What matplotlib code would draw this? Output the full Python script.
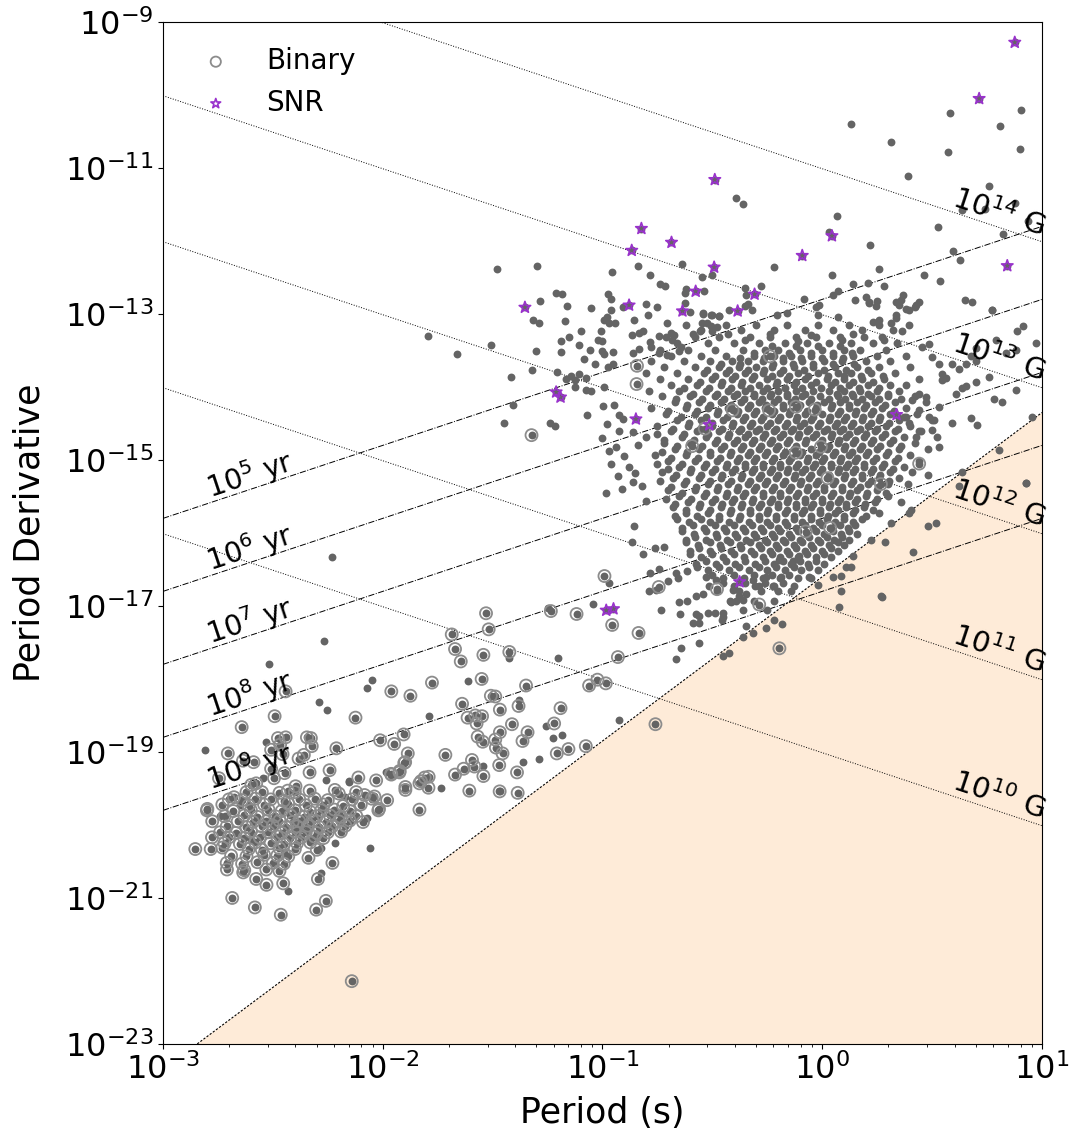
import numpy as np
import matplotlib
matplotlib.use("Agg")
import matplotlib.pyplot as plt

# ---- data (log10 P [s], log10 Pdot) ----
snr = [(0.876, -9.28), (0.714, -10.05), (-0.489, -11.16), (0.044, -11.93), (-0.091, -12.20),
       (0.842, -12.34), (-0.492, -12.36), (-0.308, -12.73), (-0.385, -12.96), (-0.823, -11.83),
       (-0.686, -12.02), (-0.867, -12.13), (-0.576, -12.69), (-0.879, -12.88), (-1.353, -12.91),
       (-0.636, -12.96), (-1.211, -14.07), (-1.191, -14.14), (-0.848, -14.44), (-0.514, -14.52),
       (0.338, -14.38), (-0.376, -16.67), (-0.983, -17.06), (-0.95, -17.04)]

upper = [(0.903, -10.21), (0.580, -10.25), (0.808, -10.43), (0.133, -10.40), (0.314, -10.65),
         (0.573, -10.78), (0.901, -10.74), (0.392, -11.11), (-0.391, -11.41), (-0.359, -11.50),
         (0.759, -11.25), (0.635, -11.57), (0.741, -11.56), (0.877, -11.48), (0.938, -11.73),
         (0.824, -11.91), (0.065, -11.66), (0.029, -11.88), (0.526, -11.81), (0.217, -12.06),
         (0.597, -12.14), (0.629, -12.26), (-0.218, -12.35), (-0.503, -12.46), (-0.547, -12.49),
         (0.045, -12.47), (0.258, -12.39), (0.465, -12.46), (0.535, -12.55), (-0.277, -12.61),
         (-0.353, -12.65), (-0.347, -12.74), (-0.336, -12.86), (-0.35, -12.89), (-0.319, -12.95),
         (0.142, -12.59), (0.206, -12.57), (0.282, -12.62), (0.070, -12.68), (0.05, -12.74),
         (-0.085, -12.80), (0.15, -12.81), (0.199, -12.77), (0.214, -12.85), (0.251, -12.82),
         (0.244, -12.89), (0.368, -12.74), (0.358, -12.81), (0.441, -12.84), (0.423, -12.90),
         (0.380, -12.93), (0.649, -12.81), (0.683, -12.84), (0.774, -12.94), (-0.014, -12.88),
         (-0.029, -12.90), (-0.021, -13.01), (-0.159, -12.99), (-0.208, -13.01), (-0.423, -12.95),
         (0.07, -13.04), (0.335, -13.01), (-0.544, -12.99), (-0.505, -13.01), (-0.468, -13.03),
         (-0.638, -12.32), (-0.838, -12.34), (-0.956, -12.43), (-0.782, -12.46), (-1.299, -12.34),
         (-1.479, -12.39), (-0.738, -12.59), (-0.717, -12.61), (-0.620, -12.66), (-0.623, -12.71),
         (-0.54, -12.69), (-1.211, -12.71), (-1.183, -12.73), (-0.976, -12.72), (-0.961, -12.79),
         (-1.161, -12.89), (-1.286, -12.82), (-1.052, -12.92), (-0.908, -12.91), (-0.803, -12.86),
         (-0.751, -12.90), (-0.626, -12.85), (-0.602, -12.97), (-0.542, -13.00), (-0.503, -13.02),
         (-0.47, -13.03), (-1.317, -13.08), (-1.29, -13.12), (-1.170, -13.10), (-0.979, -13.04),
         (-0.961, -12.94), (-0.991, -13.08), (-0.971, -13.13), (-0.942, -13.12), (-0.858, -13.08),
         (-0.791, -13.02), (-0.705, -13.12), (-0.545, -13.12), (-0.505, -13.16), (-0.477, -13.18),
         (-1.794, -13.30), (-1.664, -13.55), (-1.509, -13.42), (-1.417, -13.86), (-1.321, -13.77),
         (-1.303, -13.51), (-1.097, -13.23), (-1.191, -13.37), (-1.188, -13.52), (-1.153, -13.32),
         (-1.108, -13.42), (-1.059, -13.50), (-1.007, -13.23), (-1.020, -13.36), (-1.001, -13.37),
         (-1.003, -13.51), (-0.995, -13.55), (-0.953, -13.52), (-1.086, -13.62), (-1.036, -13.69),
         (-0.974, -13.73), (-0.953, -13.68), (-0.867, -13.29), (-0.836, -13.26), (-0.817, -13.24),
         (-0.862, -13.53), (-0.836, -13.48), (-0.782, -13.39), (-0.78, -13.45), (-0.741, -13.30),
         (-0.688, -13.26), (-0.673, -13.29), (-0.685, -13.36), (-0.641, -13.45), (-0.65, -13.51),
         (-0.586, -13.27), (-0.556, -13.24), (-0.526, -13.13), (-0.501, -13.24), (-0.744, -13.53),
         (-0.708, -13.56), (-1.206, -13.80), (-1.143, -13.85), (-1.124, -13.90), (-1.165, -13.89),
         (-1.105, -13.82), (-1.077, -13.88), (-1.123, -14.00), (-0.995, -14.00), (-1.074, -14.04),
         (-1.052, -14.05), (-1.405, -14.25), (-1.447, -14.49), (-1.238, -14.50), (-1.218, -14.53),
         (-1.071, -14.39), (-0.997, -14.26), (-0.980, -14.51), (-0.948, -14.25), (-0.923, -14.38),
         (-0.908, -14.44), (-0.923, -14.61), (-0.939, -14.82),
         (-0.43, -13.27), (-0.24, -13.28), (-0.05, -13.29), (0.14, -13.27), (-0.35, -13.36),
         (-0.11, -13.37), (0.09, -13.35), (0.28, -13.36)]

right = [(0.774, -12.94), (0.914, -13.16), (0.888, -13.24), (0.971, -13.40), (0.789, -13.35),
         (0.698, -13.47), (0.835, -13.54), (0.88, -13.49), (0.676, -13.58), (0.698, -13.65),
         (0.653, -13.68), (0.592, -13.68), (0.623, -13.75), (0.759, -13.86), (0.698, -13.93),
         (0.653, -13.99), (0.782, -14.16), (0.820, -14.20), (0.880, -14.04), (0.547, -13.91),
         (0.562, -13.88), (0.608, -14.10), (0.638, -14.01), (0.532, -14.27), (0.486, -14.41),
         (0.509, -14.45), (0.592, -14.50), (0.676, -14.43), (0.706, -14.52), (0.956, -14.41),
         (0.50, -14.59), (0.532, -14.82), (0.805, -14.86), (0.638, -15.16), (0.926, -15.31),
         (0.623, -15.36), (0.479, -15.20), (0.441, -14.61), (0.426, -14.68), (0.41, -14.18),
         (0.44, -14.32), (0.441, -14.09), (0.471, -14.14), (0.38, -14.41), (0.395, -14.50),
         (0.50, -13.59), (0.532, -13.68), (0.547, -13.82), (0.486, -13.41), (0.456, -13.45),
         (0.395, -13.15), (0.365, -13.24), (0.334, -13.06), (0.312, -13.13), (0.395, -12.95),
         (0.426, -12.88), (0.229, -13.11), (0.259, -13.08), (0.334, -12.84), (0.35, -12.88),
         (0.214, -12.84)]

lower = [(-0.983, -15.45), (-0.804, -15.56), (-0.855, -15.91), (-0.866, -16.12), (-0.817, -16.29),
         (-0.786, -16.55), (-0.741, -16.50), (-0.763, -16.21), (-0.721, -16.19), (-0.789, -16.80),
         (-0.756, -16.78), (-0.658, -16.62), (-0.617, -16.52), (-0.665, -16.55), (-0.703, -16.66),
         (-0.734, -17.05), (-0.650, -16.94), (-0.617, -16.93), (-0.647, -17.11), (-0.559, -17.14),
         (-0.574, -17.11), (-0.562, -17.51), (-0.641, -17.58), (-0.665, -17.72), (-0.521, -17.10),
         (-0.486, -17.10), (-0.453, -17.09), (-0.45, -17.15), (-0.456, -17.19), (-0.589, -17.24),
         (-0.559, -17.24), (-0.529, -16.60), (-0.514, -16.73), (-0.483, -16.64), (-0.574, -16.87),
         (-0.544, -16.83), (-0.408, -16.78), (-0.378, -16.87), (-0.362, -16.92), (-0.347, -16.83),
         (-0.416, -16.94), (-0.393, -16.93), (-0.347, -17.28), (-0.317, -17.37), (-0.362, -17.42),
         (-0.256, -17.30), (-0.218, -17.19), (-0.184, -17.25), (-0.453, -17.69), (-0.423, -17.65),
         (-0.317, -16.64), (-0.287, -16.73), (-0.256, -16.60), (-0.226, -16.73), (-0.188, -16.61),
         (-0.14, -16.80), (-0.195, -16.37), (-0.135, -16.39), (-0.105, -16.32), (-0.059, -16.60),
         (-0.021, -16.71), (0.926, -15.32), (0.403, -15.69), (0.395, -15.73), (0.312, -15.87),
         (0.479, -15.90), (0.517, -15.87), (0.224, -16.09), (0.286, -16.13), (0.138, -16.31),
         (0.411, -16.26), (0.13, -16.47), (0.108, -16.47), (0.047, -16.61), (0.085, -16.59),
         (0.085, -16.80), (0.077, -17.01), (0.267, -16.86), (0.273, -16.88),
         (-1.00, -14.70), (-0.97, -14.88), (-0.90, -14.95), (-0.88, -15.10), (-0.93, -15.22),
         (-0.86, -15.30), (-0.84, -14.80), (-0.86, -14.62), (-0.96, -15.05), (-0.91, -15.40),
         (-0.82, -15.35), (-0.85, -15.18)]

# normal pulsars in the main cloud: one row per Pdot value
core_rows = [
    (-13.15, [-0.62, -0.44, -0.30, -0.16, -0.02, 0.12, 0.26]),
    (-13.22, [-0.55, -0.37, -0.22, -0.08, 0.05, 0.18, 0.32]),
    (-13.32, [-0.71, -0.58, -0.47, -0.33, -0.24, -0.12, -0.03, 0.08, 0.19, 0.27]),
    (-13.40, [-0.66, -0.52, -0.40, -0.29, -0.17, -0.07, 0.03, 0.13, 0.23, 0.34]),
    (-13.49, [-0.74, -0.61, -0.49, -0.36, -0.26, -0.20, -0.10, 0.00, 0.10, 0.17, 0.29]),
    (-13.57, [-0.69, -0.55, -0.44, -0.31, -0.22, -0.14, -0.05, 0.05, 0.14, 0.25, 0.38]),
    (-13.65, [-0.78, -0.63, -0.51, -0.41, -0.34, -0.27, -0.18, -0.09, 0.01, 0.09, 0.20, 0.31]),
    (-13.73, [-0.72, -0.58, -0.47, -0.38, -0.30, -0.23, -0.13, -0.04, 0.06, 0.16, 0.26, 0.40]),
    (-13.81, [-0.80, -0.66, -0.54, -0.44, -0.35, -0.27, -0.19, -0.11, -0.02, 0.07, 0.13, 0.22, 0.33]),
    (-13.89, [-0.74, -0.61, -0.50, -0.41, -0.32, -0.25, -0.16, -0.08, 0.02, 0.10, 0.18, 0.28, 0.44]),
    (-13.97, [-0.69, -0.57, -0.46, -0.37, -0.29, -0.21, -0.13, -0.05, 0.04, 0.12, 0.21, 0.31, 0.38]),
    (-14.05, [-0.79, -0.65, -0.53, -0.43, -0.35, -0.27, -0.20, -0.12, -0.04, 0.03, 0.10, 0.17, 0.25, 0.35]),
    (-14.13, [-0.73, -0.60, -0.49, -0.40, -0.31, -0.24, -0.16, -0.09, -0.01, 0.07, 0.14, 0.22, 0.30, 0.42]),
    (-14.21, [-0.67, -0.56, -0.46, -0.37, -0.29, -0.22, -0.14, -0.06, 0.01, 0.08, 0.16, 0.24, 0.33, 0.47]),
    (-14.29, [-0.78, -0.62, -0.52, -0.43, -0.34, -0.26, -0.18, -0.11, -0.03, 0.04, 0.12, 0.19, 0.27, 0.38]),
    (-14.37, [-0.71, -0.58, -0.48, -0.39, -0.31, -0.23, -0.15, -0.08, 0.00, 0.07, 0.15, 0.22, 0.31, 0.43]),
    (-14.45, [-0.66, -0.55, -0.45, -0.36, -0.28, -0.20, -0.12, -0.05, 0.03, 0.10, 0.18, 0.26, 0.35, 0.50]),
    (-14.53, [-0.75, -0.61, -0.50, -0.41, -0.33, -0.25, -0.17, -0.10, -0.02, 0.06, 0.13, 0.21, 0.29, 0.40]),
    (-14.61, [-0.69, -0.57, -0.47, -0.38, -0.30, -0.22, -0.14, -0.07, 0.01, 0.08, 0.16, 0.24, 0.33, 0.45]),
    (-14.69, [-0.80, -0.64, -0.53, -0.43, -0.35, -0.27, -0.19, -0.11, -0.04, 0.04, 0.11, 0.19, 0.27, 0.37, 0.52]),
    (-14.77, [-0.72, -0.60, -0.49, -0.40, -0.32, -0.24, -0.16, -0.08, -0.01, 0.07, 0.14, 0.22, 0.31, 0.42]),
    (-14.85, [-0.67, -0.56, -0.46, -0.37, -0.29, -0.21, -0.13, -0.05, 0.02, 0.10, 0.17, 0.25, 0.35, 0.48]),
    (-14.93, [-0.76, -0.62, -0.51, -0.42, -0.34, -0.26, -0.18, -0.10, -0.03, 0.05, 0.12, 0.20, 0.29, 0.40]),
    (-15.01, [-0.70, -0.58, -0.48, -0.39, -0.31, -0.23, -0.15, -0.07, 0.00, 0.08, 0.15, 0.23, 0.33, 0.44]),
    (-15.09, [-0.65, -0.54, -0.44, -0.35, -0.27, -0.19, -0.12, -0.04, 0.04, 0.11, 0.19, 0.27, 0.37]),
    (-15.17, [-0.73, -0.60, -0.50, -0.41, -0.32, -0.24, -0.16, -0.09, -0.01, 0.07, 0.14, 0.22, 0.31, 0.41]),
    (-15.25, [-0.68, -0.56, -0.46, -0.37, -0.29, -0.21, -0.13, -0.06, 0.02, 0.10, 0.18, 0.26, 0.35]),
    (-15.33, [-0.63, -0.52, -0.43, -0.34, -0.26, -0.18, -0.10, -0.03, 0.05, 0.13, 0.21, 0.30, 0.39]),
    (-15.41, [-0.70, -0.58, -0.48, -0.39, -0.31, -0.23, -0.15, -0.07, 0.01, 0.09, 0.16, 0.25]),
    (-15.49, [-0.65, -0.54, -0.44, -0.36, -0.27, -0.19, -0.12, -0.04, 0.04, 0.12, 0.20, 0.30]),
    (-15.57, [-0.61, -0.50, -0.41, -0.32, -0.24, -0.16, -0.08, 0.00, 0.07, 0.15, 0.24, 0.36]),
    (-15.65, [-0.68, -0.56, -0.46, -0.37, -0.29, -0.20, -0.12, -0.05, 0.03, 0.11, 0.19]),
    (-15.73, [-0.62, -0.52, -0.42, -0.33, -0.25, -0.17, -0.09, -0.01, 0.06, 0.14, 0.26]),
    (-15.81, [-0.66, -0.55, -0.47, -0.38, -0.29, -0.21, -0.13, -0.05, 0.02, 0.10, 0.18]),
    (-15.89, [-0.59, -0.49, -0.40, -0.32, -0.24, -0.16, -0.08, 0.00, 0.08, 0.15]),
    (-15.97, [-0.64, -0.53, -0.44, -0.35, -0.27, -0.19, -0.11, -0.03, 0.05, 0.12]),
    (-16.05, [-0.58, -0.48, -0.39, -0.30, -0.22, -0.14, -0.06, 0.02, 0.09]),
    (-16.13, [-0.62, -0.51, -0.42, -0.33, -0.25, -0.17, -0.09, -0.01, 0.07]),
    (-16.21, [-0.56, -0.46, -0.37, -0.28, -0.20, -0.12, -0.04, 0.04]),
    (-16.29, [-0.60, -0.50, -0.40, -0.31, -0.23, -0.15, -0.07, 0.01]),
    (-16.38, [-0.53, -0.44, -0.35, -0.26, -0.18, -0.10, -0.03]),
    (-16.47, [-0.57, -0.47, -0.38, -0.29, -0.21, -0.13, -0.06]),
    (-16.57, [-0.50, -0.40, -0.31, -0.23, -0.15]),
    (-16.68, [-0.45, -0.35, -0.26, -0.18]),
    (-16.80, [-0.48, -0.38, -0.28, -0.20]),
    (-16.93, [-0.42, -0.31, -0.22]),
    (-17.05, [-0.36, -0.25]),
]

# the densest part of the cloud, between the rows above
dense_rows = [
    (-13.44, [-0.23, -0.12, -0.02, 0.08]),
    (-13.53, [-0.31, -0.15, -0.05, 0.05, 0.135]),
    (-13.61, [-0.375, -0.265, -0.18, -0.095, 0.00, 0.095]),
    (-13.69, [-0.46, -0.375, -0.225, -0.135, -0.04, 0.05, 0.145]),
    (-13.77, [-0.525, -0.425, -0.34, -0.265, -0.18, -0.085, 0.01, 0.11, 0.21]),
    (-13.85, [-0.49, -0.395, -0.31, -0.23, -0.15, -0.065, 0.025, 0.10, 0.175, 0.275]),
    (-13.93, [-0.555, -0.455, -0.365, -0.205, -0.12, -0.03, 0.06, 0.14, 0.23]),
    (-14.01, [-0.63, -0.515, -0.415, -0.33, -0.25, -0.17, -0.09, -0.005, 0.08, 0.165, 0.26]),
    (-14.09, [-0.59, -0.48, -0.39, -0.31, -0.235, -0.16, -0.08, 0.065, 0.135, 0.21, 0.30]),
    (-14.17, [-0.665, -0.545, -0.445, -0.355, -0.275, -0.20, -0.125, -0.05, 0.03, 0.105, 0.18, 0.26, 0.36]),
    (-14.25, [-0.615, -0.51, -0.415, -0.33, -0.255, -0.18, -0.10, -0.025, 0.045, 0.12, 0.20, 0.285]),
    (-14.33, [-0.70, -0.57, -0.475, -0.385, -0.30, -0.22, -0.145, -0.07, 0.08, 0.155, 0.23, 0.325]),
    (-14.41, [-0.645, -0.53, -0.435, -0.35, -0.27, -0.19, -0.115, -0.04, 0.035, 0.11, 0.185, 0.265, 0.37]),
    (-14.49, [-0.605, -0.50, -0.405, -0.32, -0.24, -0.16, -0.085, -0.01, 0.065, 0.14, 0.22, 0.305]),
    (-14.57, [-0.68, -0.555, -0.455, -0.37, -0.29, -0.21, -0.135, -0.06, 0.02, 0.095, 0.17, 0.25, 0.345]),
    (-14.65, [-0.75, -0.63, -0.52, -0.425, -0.34, -0.26, -0.18, -0.105, -0.03, 0.045, 0.12, 0.20, 0.285]),
    (-14.73, [-0.72, -0.585, -0.48, -0.39, -0.31, -0.23, -0.15, -0.075, 0.00, 0.075, 0.15, 0.23, 0.32]),
    (-14.81, [-0.66, -0.545, -0.445, -0.36, -0.28, -0.20, -0.12, 0.03, 0.105, 0.18, 0.265, 0.36]),
    (-14.89, [-0.73, -0.615, -0.51, -0.415, -0.33, -0.25, -0.17, -0.09, -0.015, 0.06, 0.135, 0.21, 0.30]),
    (-14.97, [-0.69, -0.565, -0.465, -0.38, -0.30, -0.22, -0.14, -0.065, 0.01, 0.085, 0.16, 0.245, 0.345]),
    (-15.05, [-0.75, -0.64, -0.53, -0.435, -0.35, -0.27, -0.19, -0.11, -0.035, 0.04, 0.115, 0.19, 0.28]),
    (-15.13, [-0.70, -0.595, -0.49, -0.395, -0.31, -0.23, -0.155, -0.08, 0.00, 0.075, 0.15, 0.23, 0.32]),
    (-15.21, [-0.665, -0.55, -0.455, -0.365, -0.28, -0.20, -0.125, -0.05, 0.03, 0.105, 0.18, 0.265]),
    (-15.29, [-0.74, -0.62, -0.51, -0.415, -0.33, -0.25, -0.17, -0.095, -0.02, 0.06, 0.14, 0.22, 0.305]),
    (-15.37, [-0.69, -0.575, -0.475, -0.385, -0.30, -0.22, -0.14, -0.065, 0.01, 0.09, 0.17, 0.255]),
    (-15.45, [-0.64, -0.53, -0.435, -0.35, -0.27, -0.19, -0.11, -0.03, 0.05, 0.125, 0.205, 0.29]),
    (-15.53, [-0.71, -0.595, -0.49, -0.40, -0.315, -0.23, -0.155, -0.08, 0.00, 0.08, 0.16, 0.25]),
    (-15.61, [-0.67, -0.555, -0.455, -0.365, -0.28, -0.20, -0.12, -0.04, 0.035, 0.11, 0.195]),
    (-15.69, [-0.62, -0.51, -0.415, -0.33, -0.245, -0.16, -0.085, -0.01, 0.07, 0.15, 0.23]),
    (-15.77, [-0.67, -0.57, -0.47, -0.375, -0.29, -0.21, -0.13, -0.05, 0.025, 0.10, 0.20]),
    (-15.85, [-0.605, -0.51, -0.425, -0.335, -0.25, -0.17, -0.09, -0.015, 0.06, 0.14]),
    (-15.93, [-0.64, -0.54, -0.445, -0.36, -0.28, -0.20, -0.12, -0.04, 0.04, 0.115]),
    (-16.01, [-0.585, -0.485, -0.395, -0.31, -0.23, -0.15, -0.07, 0.01, 0.085, 0.16]),
    (-16.09, [-0.62, -0.53, -0.435, -0.345, -0.26, -0.18, -0.10, -0.02, 0.055, 0.12]),
    (-16.17, [-0.565, -0.465, -0.375, -0.29, -0.21, -0.13, -0.05, 0.03, 0.10]),
    (-16.25, [-0.60, -0.51, -0.415, -0.325, -0.24, -0.16, -0.08, 0.00, 0.07]),
    (-16.33, [-0.55, -0.45, -0.355, -0.27, -0.19, -0.11, -0.03, 0.04]),
    (-16.42, [-0.575, -0.485, -0.395, -0.305, -0.22, -0.14, -0.065, 0.01]),
    (-16.51, [-0.52, -0.425, -0.335, -0.25, -0.17, -0.095, -0.02]),
    (-16.62, [-0.45, -0.355, -0.27, -0.19, -0.11, -0.05]),
    (-16.73, [-0.40, -0.305, -0.22, -0.13]),
]

msp_dots = [(-2.232, -16.33), (-0.97, -16.69), (-1.25, -17.03), (-1.041, -16.97), (-2.267, -17.48),
            (-1.424, -17.71), (-1.203, -17.71), (-2.518, -17.80), (-2.047, -18.02), (-2.073, -18.13),
            (-1.614, -18.03), (-2.292, -18.31), (-2.252, -18.42), (-1.382, -18.29), (-1.791, -18.51),
            (-1.258, -18.64), (-1.227, -18.81), (-1.182, -18.77), (-0.927, -18.56), (-1.291, -19.10),
            (-1.362, -19.14), (-1.542, -19.19), (-1.985, -19.28), (-1.735, -19.49), (-1.473, -19.53),
            (-2.155, -19.40), (-2.258, -19.39), (-2.533, -18.86), (-2.811, -18.98), (-2.545, -19.35),
            (-2.174, -19.62), (-2.432, -20.91), (-2.280, -20.66), (-2.217, -20.25), (-2.283, -20.32),
            (-2.056, -20.32), (-2.071, -19.91), (-2.152, -19.41), (-2.74, -19.88), (-2.50, -19.98),
            (-2.37, -20.05), (-2.60, -20.20), (-2.33, -20.21), (-2.45, -20.38), (-2.20, -19.83),
            (-2.65, -19.73)]

binary = [(-1.323, -14.66), (-0.843, -13.71), (-0.845, -13.96), (-0.239, -13.58), (-0.408, -14.32),
          (-0.242, -14.32), (-0.120, -14.27), (-0.034, -14.31), (-0.535, -14.57), (-0.592, -14.81),
          (-0.12, -14.90), (0.441, -15.05), (0.267, -15.33), (0.024, -15.25), (-0.006, -14.82),
          (-0.075, -15.98), (-0.744, -16.74), (-0.479, -16.77), (-0.287, -16.98), (-0.195, -17.58),
          (-0.991, -16.59), (-0.836, -17.37), (-0.956, -17.26), (-0.93, -17.70), (0.036, -15.93),
          (-0.759, -18.62), (-2.141, -22.14),
          (-1.530, -17.10), (-1.235, -17.07), (-1.118, -17.11), (-1.518, -17.32), (-1.686, -17.39),
          (-1.671, -17.59), (-1.645, -17.76), (-1.542, -17.67), (-1.424, -17.63), (-2.442, -18.17),
          (-1.776, -18.05), (-1.550, -18.00), (-1.348, -18.09), (-1.061, -18.09), (-1.023, -18.01),
          (-0.985, -18.06), (-1.961, -18.17), (-1.874, -18.23), (-2.492, -18.51), (-2.124, -18.53),
          (-2.642, -18.66), (-1.639, -18.34), (-1.508, -18.23), (-1.488, -18.24), (-1.467, -18.42),
          (-1.382, -18.37), (-1.191, -18.40), (-1.614, -18.53), (-1.579, -18.50), (-1.548, -18.51),
          (-1.573, -18.61), (-1.412, -18.62), (-1.220, -18.61), (-1.467, -18.73), (-1.341, -18.73),
          (-1.364, -18.85), (-1.568, -18.79), (-1.545, -18.86), (-1.488, -18.83), (-1.485, -18.94),
          (-1.455, -19.02), (-1.155, -18.96), (-1.208, -19.02), (-1.076, -18.92), (-1.715, -19.04),
          (-1.594, -19.11), (-1.632, -19.23), (-1.583, -19.20), (-1.671, -19.31), (-1.542, -19.33),
          (-1.470, -19.18), (-1.389, -19.28), (-1.386, -19.56), (-1.468, -19.54), (-2.012, -18.84),
          (-1.948, -18.89), (-1.905, -18.76), (-1.886, -19.02), (-1.898, -19.14), (-1.923, -19.26),
          (-1.961, -19.31), (-1.809, -19.35), (-1.791, -19.34), (-1.826, -19.40), (-1.792, -19.49),
          (-1.897, -19.48), (-1.606, -19.53), (-2.030, -19.39), (-2.111, -19.35), (-2.242, -19.25),
          (-2.211, -18.95), (-2.327, -18.81), (-2.323, -18.92), (-2.345, -18.80), (-2.359, -19.04),
          (-2.383, -19.09), (-2.333, -19.28), (-2.477, -18.81), (-2.442, -18.80), (-2.467, -18.90),
          (-2.456, -19.03), (-2.508, -18.97), (-2.705, -19.02), (-2.636, -19.12), (-2.588, -19.14),
          (-2.745, -19.36), (-2.508, -19.23), (-2.495, -19.36), (-2.447, -19.29), (-2.397, -19.47),
          (-2.432, -19.53), (-2.333, -19.53), (-2.218, -19.52), (-2.121, -19.55), (-2.083, -19.59),
          (-2.038, -19.61), (-2.598, -19.45), (-2.576, -19.43), (-2.677, -19.62),
          (-2.853, -20.33), (-2.783, -20.33), (-2.730, -20.31), (-2.798, -19.78), (-2.776, -19.95),
          (-2.777, -20.17), (-2.709, -20.61), (-2.635, -20.65), (-2.685, -21.00), (-2.582, -21.13),
          (-2.464, -21.23), (-2.576, -20.74), (-2.529, -20.82), (-2.453, -20.80), (-2.295, -20.74),
          (-2.303, -21.16), (-2.259, -21.04), (-2.229, -20.52), (-2.338, -20.45), (-2.017, -19.78),
          (-1.897, -19.52), (-1.962, -19.30), (-1.924, -19.28), (-1.902, -19.15), (-1.833, -19.43),
          (-1.833, -19.79),
          # dense MSP clump
          (-2.62, -19.55), (-2.55, -19.55), (-2.47, -19.56), (-2.40, -19.55), (-2.20, -19.57),
          (-2.70, -19.65), (-2.64, -19.66), (-2.58, -19.64), (-2.51, -19.65), (-2.45, -19.67),
          (-2.38, -19.65), (-2.31, -19.64), (-2.25, -19.66), (-2.14, -19.65), (-2.05, -19.64),
          (-1.98, -19.66), (-2.73, -19.72), (-2.61, -19.73), (-2.54, -19.72), (-2.43, -19.71),
          (-2.35, -19.73), (-2.27, -19.72), (-2.18, -19.74), (-2.10, -19.72), (-2.80, -19.80),
          (-2.68, -19.81), (-2.60, -19.80), (-2.52, -19.79), (-2.46, -19.81), (-2.40, -19.80),
          (-2.33, -19.82), (-2.28, -19.80), (-2.22, -19.79), (-2.15, -19.81), (-2.02, -19.80),
          (-2.72, -19.88), (-2.63, -19.87), (-2.57, -19.89), (-2.49, -19.88), (-2.42, -19.87),
          (-2.36, -19.89), (-2.30, -19.88), (-2.24, -19.87), (-2.19, -19.89), (-2.12, -19.88),
          (-2.66, -19.95), (-2.59, -19.96), (-2.53, -19.95), (-2.47, -19.94), (-2.41, -19.96),
          (-2.38, -19.95), (-2.32, -19.94), (-2.26, -19.96), (-2.20, -19.95), (-2.15, -19.94),
          (-2.09, -19.96), (-2.71, -20.02), (-2.62, -20.03), (-2.55, -20.02), (-2.50, -20.01),
          (-2.44, -20.03), (-2.39, -20.02), (-2.34, -20.01), (-2.29, -20.03), (-2.23, -20.02),
          (-2.17, -20.01), (-2.74, -20.10), (-2.67, -20.11), (-2.60, -20.09), (-2.52, -20.10),
          (-2.46, -20.11), (-2.40, -20.09), (-2.35, -20.10), (-2.30, -20.11), (-2.25, -20.10),
          (-2.19, -20.09), (-2.70, -20.17), (-2.63, -20.18), (-2.56, -20.17), (-2.48, -20.16),
          (-2.42, -20.18), (-2.37, -20.17), (-2.31, -20.16), (-2.27, -20.18), (-2.72, -20.25),
          (-2.65, -20.26), (-2.58, -20.24), (-2.51, -20.25), (-2.45, -20.26), (-2.39, -20.25),
          (-2.33, -20.24), (-2.61, -20.33), (-2.55, -20.34), (-2.47, -20.32), (-2.40, -20.33),
          (-2.30, -20.34), (-2.69, -20.42), (-2.62, -20.43), (-2.54, -20.41), (-2.48, -20.42),
          (-2.43, -20.43), (-2.71, -20.52), (-2.64, -20.53), (-2.57, -20.51), (-2.50, -20.52),
          (-2.45, -20.53), (-2.63, -20.62), (-2.53, -20.61), (-2.47, -20.63)]

b_fields = [10, 11, 12, 13, 14]   # log10 B [G]
ages = [5, 6, 7, 8, 9]            # log10 tau [yr]

# ---- collect the point sets ----
normal = upper + right + lower
for lpd, lps in core_rows + dense_rows:
    normal += [(lp, lpd) for lp in lps]
all_dots = np.array(normal + msp_dots + binary + snr)
binary = np.array(binary)
snr = np.array(snr)

fig = plt.figure(figsize=(10.78, 11.33), dpi=100)
ax = fig.add_axes([0.1512, 0.0786, 0.8154, 0.902])
ax.set_xscale("log")
ax.set_yscale("log")
ax.set_xlim(1e-3, 10)
ax.set_ylim(1e-23, 1e-9)

lp = np.linspace(-3, 1, 200)
P = 10 ** lp

# death line and the graveyard below it
death = 10 ** (2.25 * lp - 16.6)
ax.fill_between(P, 1e-30, death, color="#FEEBD8", lw=0, zorder=0)
ax.plot(P, death, color="k", ls=(0, (2, 1.5)), lw=0.8, zorder=1)

# constant B lines: B = 3.2e19 sqrt(P Pdot)
for b in b_fields:
    ax.plot(P, 10 ** (2 * b - 2 * np.log10(3.2e19) - lp), color="k", ls=":", lw=0.7, zorder=1)
# characteristic age lines: tau = P / (2 Pdot)
for a in ages:
    ax.plot(P, 10 ** (lp - np.log10(2 * 3.156e7) - a), color="k", ls="-.", lw=0.7, zorder=1)

ax.scatter(10 ** all_dots[:, 0], 10 ** all_dots[:, 1], s=32, color="#646464", lw=0, zorder=2)
ax.scatter(10 ** binary[:, 0], 10 ** binary[:, 1], s=75, facecolors="none", edgecolors="#8c8c8c",
           lw=1.3, zorder=3, label="Binary")
ax.scatter(10 ** snr[:, 0], 10 ** snr[:, 1], s=75, marker="*", facecolors="none",
           edgecolors="darkorchid", lw=1.2, zorder=4, label="SNR")

# labels along the lines
p0 = ax.transData.transform((1e-2, 1e-16))
p1 = ax.transData.transform((1e-1, 1e-15))
ang = np.degrees(np.arctan2(p1[1] - p0[1], p1[0] - p0[0]))

lab_p = -2.605
for a in ages:
    y = lab_p - np.log10(2 * 3.156e7) - a + 0.2
    ax.text(10 ** lab_p, 10 ** y, r"$10^{%d}$ yr" % a, fontsize=20.5, rotation=ang,
            rotation_mode="anchor", ha="center", va="center", zorder=5)
lab_p = 0.805
for b in b_fields:
    y = 2 * b - 2 * np.log10(3.2e19) - lab_p + 0.21
    ax.text(10 ** lab_p, 10 ** y, r"$10^{%d}$ G" % b, fontsize=21, rotation=-ang,
            rotation_mode="anchor", ha="center", va="center", zorder=5)

ax.set_xlabel("Period (s)", fontsize=25, labelpad=7)
ax.set_ylabel("Period Derivative", fontsize=25, labelpad=13)
ax.tick_params(labelsize=23)
ax.legend(loc="upper left", frameon=False, fontsize=20, markerscale=0.85)

fig.savefig("out.png", dpi=100)
